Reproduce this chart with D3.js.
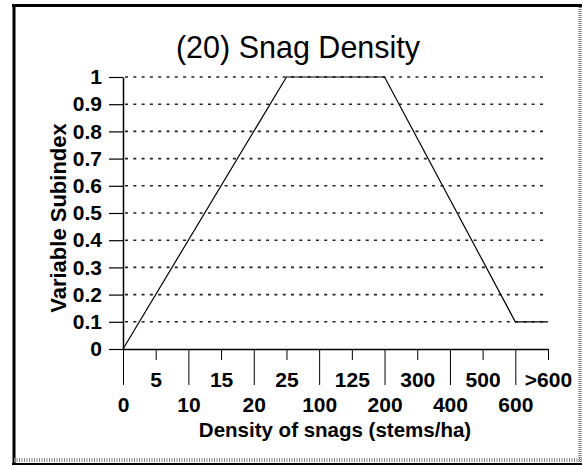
<!DOCTYPE html>
<html>
<head>
<meta charset="utf-8">
<script src="https://cdn.jsdelivr.net/npm/d3@7"></script>
<style>
  html, body { margin: 0; padding: 0; background: #fff; }
  svg { display: block; }
  text { font-family: "Liberation Sans", Arial, sans-serif; fill: #000; }
</style>
</head>
<body>
<svg id="chart" width="582" height="465"></svg>
<script>
// Density classes along the x axis (stems/ha)
const densityClasses = ["0", "5", "10", "15", "20", "25", "100", "125", "200", "300", "400", "500", "600", ">600"];
// Subindex curve breakpoints
const curveClasses = ["0", "25", "200", "600", ">600"];
const curveValues = [0, 1, 1, 0.1, 0.1];
// Y tick values and labels
const yTicks = [0, 0.1, 0.2, 0.3, 0.4, 0.5, 0.6, 0.7, 0.8, 0.9, 1];
const yTickLabels = ["0", "0.1", "0.2", "0.3", "0.4", "0.5", "0.6", "0.7", "0.8", "0.9", "1"];

const titleText = "(20) Snag Density";
const xTitle = "Density of snags (stems/ha)";
const yTitle = "Variable Subindex";

const svg = d3.select("#chart");

// Frame
svg.append("line").attr("x1", 12).attr("x2", 582).attr("y1", 5.5).attr("y2", 5.5)
  .attr("stroke", "#000").attr("stroke-width", 3);
svg.append("line").attr("x1", 14).attr("x2", 14).attr("y1", 4).attr("y2", 465)
  .attr("stroke", "#000").attr("stroke-width", 3);
svg.append("line").attr("x1", 580).attr("x2", 580).attr("y1", 7).attr("y2", 462)
  .attr("stroke", "#777").attr("stroke-width", 3).attr("stroke-dasharray", "1,1");
svg.append("line").attr("x1", 14).attr("x2", 582).attr("y1", 460).attr("y2", 460)
  .attr("stroke", "#888").attr("stroke-width", 4).attr("stroke-dasharray", "1,1.5");
svg.append("line").attr("x1", 12).attr("x2", 582).attr("y1", 464).attr("y2", 464)
  .attr("stroke", "#000").attr("stroke-width", 2);

const x = d3.scalePoint().domain(densityClasses).range([123, 548]);
const y = d3.scaleLinear().domain([0, 1]).range([349, 77]);

// Title
svg.append("text")
  .attr("x", 298).attr("y", 58)
  .attr("text-anchor", "middle")
  .style("font-size", "30.5px")
  .text(titleText);

// Dotted gridlines
svg.append("g").selectAll("line")
  .data(yTicks.filter(d => d > 0))
  .join("line")
  .attr("x1", x.range()[0] + 2).attr("x2", x.range()[1])
  .attr("y1", d => y(d)).attr("y2", d => y(d))
  .attr("stroke", "#222").attr("stroke-width", 1.6)
  .attr("stroke-dasharray", "3,5.3");

// Y axis
const yAxis = svg.append("g")
  .attr("transform", `translate(${x.range()[0]},0)`)
  .call(d3.axisLeft(y)
    .tickValues(yTicks)
    .tickFormat((d, i) => yTickLabels[i])
    .tickSize(14)
    .tickSizeOuter(0)
    .tickPadding(7));
yAxis.select(".domain").attr("stroke", "#000").attr("stroke-width", 1.5);
yAxis.selectAll(".tick line").attr("stroke", "#000").attr("stroke-width", 1.2);
yAxis.selectAll(".tick text")
  .style("font-size", "21px").style("font-weight", "bold");

// X axis: long ticks at even classes, short ticks at odd classes, labels in two rows
const xAxis = svg.append("g")
  .attr("transform", `translate(0,${y(0)})`)
  .call(d3.axisBottom(x).tickSizeOuter(0));
xAxis.select(".domain").attr("stroke", "#000").attr("stroke-width", 1.5);
xAxis.selectAll(".tick").each(function (d, i) {
  const g = d3.select(this);
  const even = i % 2 === 0;
  g.select("line").attr("y2", even ? 36 : 11).attr("stroke", "#000").attr("stroke-width", 1);
  g.select("text")
    .attr("y", even ? 63 : 37.5)
    .attr("dy", 0)
    .style("font-size", "21px").style("font-weight", "bold");
});
xAxis.attr("font-family", null).attr("font-size", null);
yAxis.attr("font-family", null).attr("font-size", null);

// Axis titles
svg.append("text")
  .attr("x", 335).attr("y", 437)
  .attr("text-anchor", "middle")
  .style("font-size", "20.5px").style("font-weight", "bold")
  .text(xTitle);

svg.append("text")
  .attr("transform", "translate(66,218) rotate(-90)")
  .attr("text-anchor", "middle")
  .style("font-size", "22px").style("font-weight", "bold")
  .text(yTitle);

// Subindex curve
svg.append("path")
  .datum(curveClasses.map((c, i) => [c, curveValues[i]]))
  .attr("fill", "none")
  .attr("stroke", "#000")
  .attr("stroke-width", 1.2)
  .attr("d", d3.line().x(d => x(d[0])).y(d => y(d[1])));
</script>
</body>
</html>
